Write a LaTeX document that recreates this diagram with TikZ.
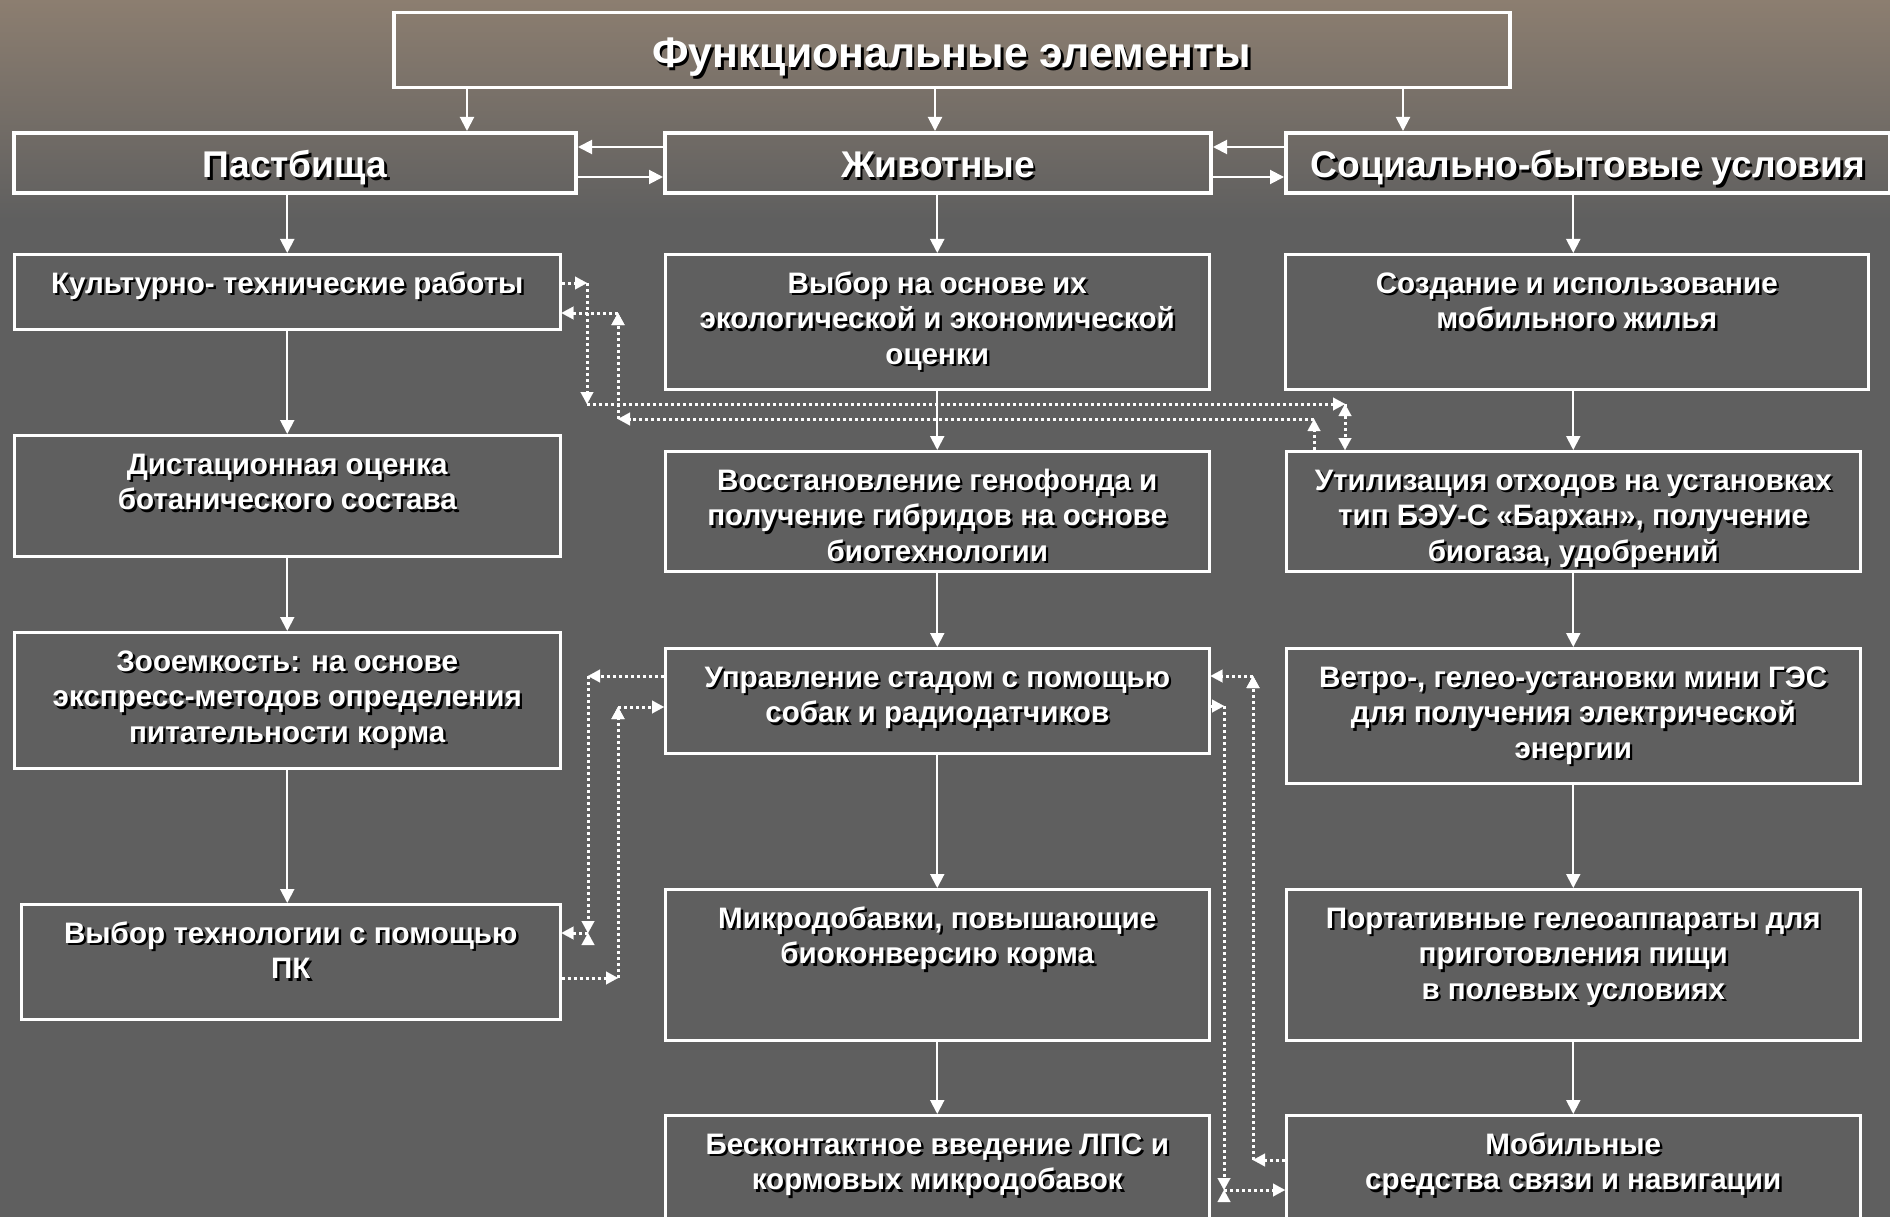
\documentclass[tikz,border=0pt]{standalone}
\usepackage{fontspec}
\setmainfont{Liberation Sans}
\usetikzlibrary{arrows.meta,calc}
\definecolor{bgtop}{HTML}{8C7E70}
\definecolor{bgmid}{HTML}{5F5F5F}
\newcommand\shtxt[1]{\makebox[0pt][l]{\hspace{2.4pt}\raisebox{-2.4pt}[0pt][0pt]{\color{black}\begin{tabular}[t]{@{}c@{}}#1\end{tabular}}}\begin{tabular}[t]{@{}c@{}}#1\end{tabular}}
\newcommand\bx[4]{\parbox[c][#2][t]{#1}{\centering\rule{0pt}{#3}\shtxt{#4}\par}}
\tikzset{
  bodybox/.style={draw=white, line width=2.5pt, inner sep=0pt, anchor=north west, text=white,
    font=\bfseries\fontsize{29.6}{35.5}\selectfont},
  headbox/.style={draw=white, line width=4pt, inner sep=0pt, anchor=north west, text=white,
    font=\bfseries\fontsize{37.2}{44}\selectfont},
  titlebox/.style={draw=white, line width=3.5pt, inner sep=0pt, anchor=north west, text=white,
    font=\bfseries\fontsize{42.8}{50}\selectfont},
  arr/.style={draw=white, line width=2pt, -{Triangle[width=14pt,length=14pt]}},
  darr/.style={draw=white, line width=3pt, dash pattern=on 3pt off 3pt,
    -{Triangle[width=13pt,length=12pt,fill=white,line width=0.1pt]}}
}
\begin{document}
\begin{tikzpicture}[x=1pt,y=-1pt]
\clip (0,0) rectangle (1890,1217);
\shade[top color=bgtop, bottom color=bgmid] (0,0) rectangle (1890,220);
\fill[bgmid] (0,219) rectangle (1890,1217);

% title and headers
\node[titlebox] (T) at (392,11) {\bx{1116pt}{75pt}{55pt}{Функциональные элементы}};
\node[headbox] (P) at (12,131) {\bx{562pt}{60pt}{45pt}{Пастбища}};
\node[headbox] (J) at (663,131) {\bx{546pt}{60pt}{45pt}{Животные}};
\node[headbox] (S) at (1284,131) {\bx{604pt}{60pt}{45pt}{Социально-бытовые условия}};

% left column
\node[bodybox] (K) at (13,253) {\bx{546pt}{75pt}{39pt}{Культурно- технические работы}};
\node[bodybox] (D) at (13,434) {\bx{546pt}{121pt}{39pt}{Дистационная оценка\\ботанического состава}};
\node[bodybox] (Z) at (13,631) {\bx{546pt}{136pt}{39pt}{Зооемкость: на основе\\экспресс-методов определения\\питательности корма}};
\node[bodybox] (V) at (20,903) {\bx{539pt}{115pt}{39pt}{Выбор технологии с помощью\\ПК}};

% middle column
\node[bodybox] (M1) at (664,253) {\bx{544pt}{135pt}{39pt}{Выбор на основе их\\экологической и экономической\\оценки}};
\node[bodybox] (M2) at (664,450) {\bx{544pt}{120pt}{39pt}{Восстановление генофонда и\\получение гибридов на основе\\биотехнологии}};
\node[bodybox] (M3) at (664,647) {\bx{544pt}{105pt}{39pt}{Управление стадом с помощью\\собак и радиодатчиков}};
\node[bodybox] (M4) at (664,888) {\bx{544pt}{151pt}{39pt}{Микродобавки, повышающие\\биоконверсию корма}};
\node[bodybox] (M5) at (664,1114) {\bx{544pt}{130pt}{39pt}{Бесконтактное введение ЛПС и\\кормовых микродобавок}};

% right column
\node[bodybox] (R1) at (1284,253) {\bx{583pt}{135pt}{39pt}{Создание и использование\\мобильного жилья}};
\node[bodybox] (R2) at (1285,450) {\bx{574pt}{120pt}{39pt}{Утилизация отходов на установках\\тип БЭУ-С «Бархан», получение\\биогаза, удобрений}};
\node[bodybox] (R3) at (1285,647) {\bx{574pt}{135pt}{39pt}{Ветро-, гелео-установки мини ГЭС\\для получения электрической\\энергии}};
\node[bodybox] (R4) at (1285,888) {\bx{574pt}{151pt}{39pt}{Портативные гелеоаппараты для\\приготовления пищи\\в полевых условиях}};
\node[bodybox] (R5) at (1285,1114) {\bx{574pt}{130pt}{39pt}{Мобильные\\средства связи и навигации}};

% title -> headers
\coordinate (x1) at (467,0);
\coordinate (x2) at (935,0);
\coordinate (x3) at (1403,0);
\draw[arr] (x1 |- T.south) -- (x1 |- P.north);
\draw[arr] (x2 |- T.south) -- (x2 |- J.north);
\draw[arr] (x3 |- T.south) -- (x3 |- S.north);

% between headers
\coordinate (h1) at (0,147);
\coordinate (h2) at (0,177);
\draw[arr] (J.west |- h1) -- (P.east |- h1);
\draw[arr] (P.east |- h2) -- (J.west |- h2);
\draw[arr] (S.west |- h1) -- (J.east |- h1);
\draw[arr] (J.east |- h2) -- (S.west |- h2);

% columns
\draw[arr] (P.south -| K.north) -- (K.north);
\draw[arr] (K.south) -- (D.north);
\draw[arr] (D.south) -- (Z.north);
\draw[arr] (Z.south) -- (Z.south |- V.north);
\draw[arr] (J.south -| M1.north) -- (M1.north);
\draw[arr] (M1.south) -- (M2.north);
\draw[arr] (M2.south) -- (M3.north);
\draw[arr] (M3.south) -- (M4.north);
\draw[arr] (M4.south) -- (M5.north);
\draw[arr] (S.south -| R2.north) -- (R1.north -| R2.north);
\draw[arr] (R1.south -| R2.north) -- (R2.north);
\draw[arr] (R2.south) -- (R3.north);
\draw[arr] (R3.south) -- (R4.north);
\draw[arr] (R4.south) -- (R5.north);

% dotted connectors
\coordinate (a1) at (587,283);
\coordinate (a2) at (587,404);
\coordinate (a3) at (1345,404);
\draw[darr] (K.east |- a1) edge (a1) (a1) edge (a2) (a2) edge (a3) (a3) edge (R2.north -| a3);
\coordinate (b1) at (1314,419);
\coordinate (b2) at (618,419);
\coordinate (b3) at (618,313);
\draw[darr] (R2.north -| b1) edge (b1) (b1) edge (b2) (b2) edge (b3) (b3) edge (K.east |- b3);
\coordinate (c1) at (588,676);
\coordinate (c2) at (588,933);
\draw[darr] (M3.west |- c1) edge (c1) (c1) edge (c2) (c2) edge (V.east |- c2);
\coordinate (d1) at (618,978);
\coordinate (d2) at (618,707);
\draw[darr] (V.east |- d1) edge (d1) (d1) edge (d2) (d2) edge (M3.west |- d2);
\coordinate (e1) at (1253,1160);
\coordinate (e2) at (1253,676);
\draw[darr] (R5.west |- e1) edge (e1) (e1) edge (e2) (e2) edge (M3.east |- e2);
\coordinate (f1) at (1224,706);
\coordinate (f2) at (1224,1190);
\draw[darr] (M3.east |- f1) edge (f1) (f1) edge (f2) (f2) edge (R5.west |- f2);
\end{tikzpicture}
\end{document}
